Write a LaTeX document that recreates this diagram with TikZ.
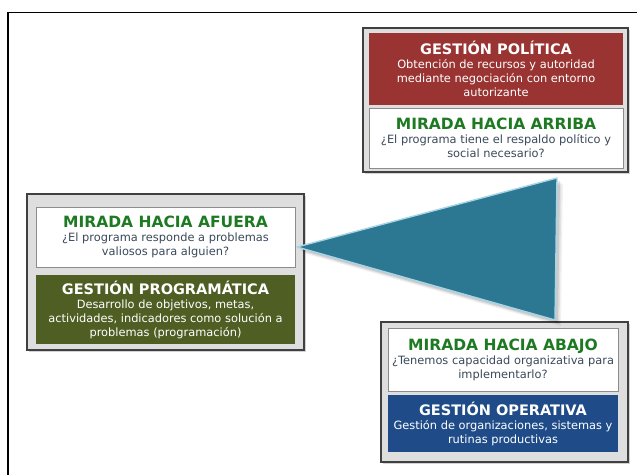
\documentclass[tikz,border=0pt]{standalone}
\usepackage{fontspec}
\setmainfont{DejaVu Sans}
\usetikzlibrary{shadows}
\definecolor{polred}{HTML}{9A3432}
\definecolor{proggreen}{HTML}{4F5F24}
\definecolor{opblue}{HTML}{1F4C88}
\definecolor{titlegreen}{HTML}{1E7A22}
\definecolor{bodygray}{HTML}{3A4A5A}
\definecolor{teal}{HTML}{2C7893}
\definecolor{tealedge}{HTML}{A8D4E8}
\newcommand{\mtitle}[1]{{\fontsize{15.5}{18}\selectfont\bfseries\color{titlegreen}#1}}
\newcommand{\gtitle}[1]{{\fontsize{14.5}{17}\selectfont\bfseries #1}}
\begin{document}
\begin{tikzpicture}[x=1pt,y=-1pt,
  frame/.style={draw=black!75, line width=1.6pt, fill=black!13, inner sep=0pt,
                drop shadow={shadow xshift=1.5pt, shadow yshift=-1.5pt, opacity=0.35}},
  whitebox/.style={draw=black!45, line width=0.6pt, fill=white, inner sep=0pt, align=center,
                   text=bodygray, font=\fontsize{11.4}{14}\selectfont},
  colbox/.style={fill=#1, inner sep=0pt, align=center, text=white,
                 font=\fontsize{11.4}{14}\selectfont}]
\useasboundingbox (0,0) rectangle (637,475);
\draw[line width=1.6pt] (8,475) -- (8,12.5) -- (637,12.5);

% top-right group
\node[frame, minimum width=265pt, minimum height=144pt] (tf) at (495.5,100) {};
\node[colbox=polred, minimum width=254pt, minimum height=72pt] (pol) at (496,69)
  {\gtitle{GESTIÓN POLÍTICA}\\
   Obtención de recursos y autoridad\\mediante negociación con entorno\\autorizante};
\node[whitebox, minimum width=254pt, minimum height=60pt] (arr) at (496,138)
  {\mtitle{MIRADA HACIA ARRIBA}\\
   ¿El programa tiene el respaldo político y\\social necesario?};

% left group
\node[frame, minimum width=277pt, minimum height=156pt] (lf) at (165.5,272) {};
\node[whitebox, minimum width=259pt, minimum height=60pt] (afu) at (165.5,237)
  {\mtitle{MIRADA HACIA AFUERA}\\
   ¿El programa responde a problemas\\valiosos para alguien?};
\node[colbox=proggreen, minimum width=259pt, minimum height=69pt] (prog) at (165.5,309.5)
  {\gtitle{GESTIÓN PROGRAMÁTICA}\\
   Desarrollo de objetivos, metas,\\actividades, indicadores como solución a\\problemas (programación)};

% bottom-right group
\node[frame, minimum width=247pt, minimum height=140pt] (bf) at (504.5,392) {};
\node[whitebox, minimum width=230pt, minimum height=63pt] (aba) at (503,359.5)
  {\mtitle{MIRADA HACIA ABAJO}\\
   ¿Tenemos capacidad organizativa para\\implementarlo?};
\node[colbox=opblue, minimum width=230pt, minimum height=57pt] (ope) at (503,423.5)
  {\gtitle{GESTIÓN OPERATIVA}\\
   Gestión de organizaciones, sistemas y\\rutinas productivas};

% triangle
\coordinate (tip) at (297,247);
\coordinate (tr) at (557,178);
\coordinate (br) at (555,320);
\foreach \o/\a in {6/0.05,4.5/0.07,3/0.1}
  \fill[black, opacity=\a] ([shift={(\o,\o)}]tip) -- ([shift={(\o,\o)}]tr) -- ([shift={(\o,\o)}]br) -- cycle;
\filldraw[fill=teal, draw=tealedge, line width=1.4pt, line join=round] (tip) -- (tr) -- (br) -- cycle;
\end{tikzpicture}
\end{document}
